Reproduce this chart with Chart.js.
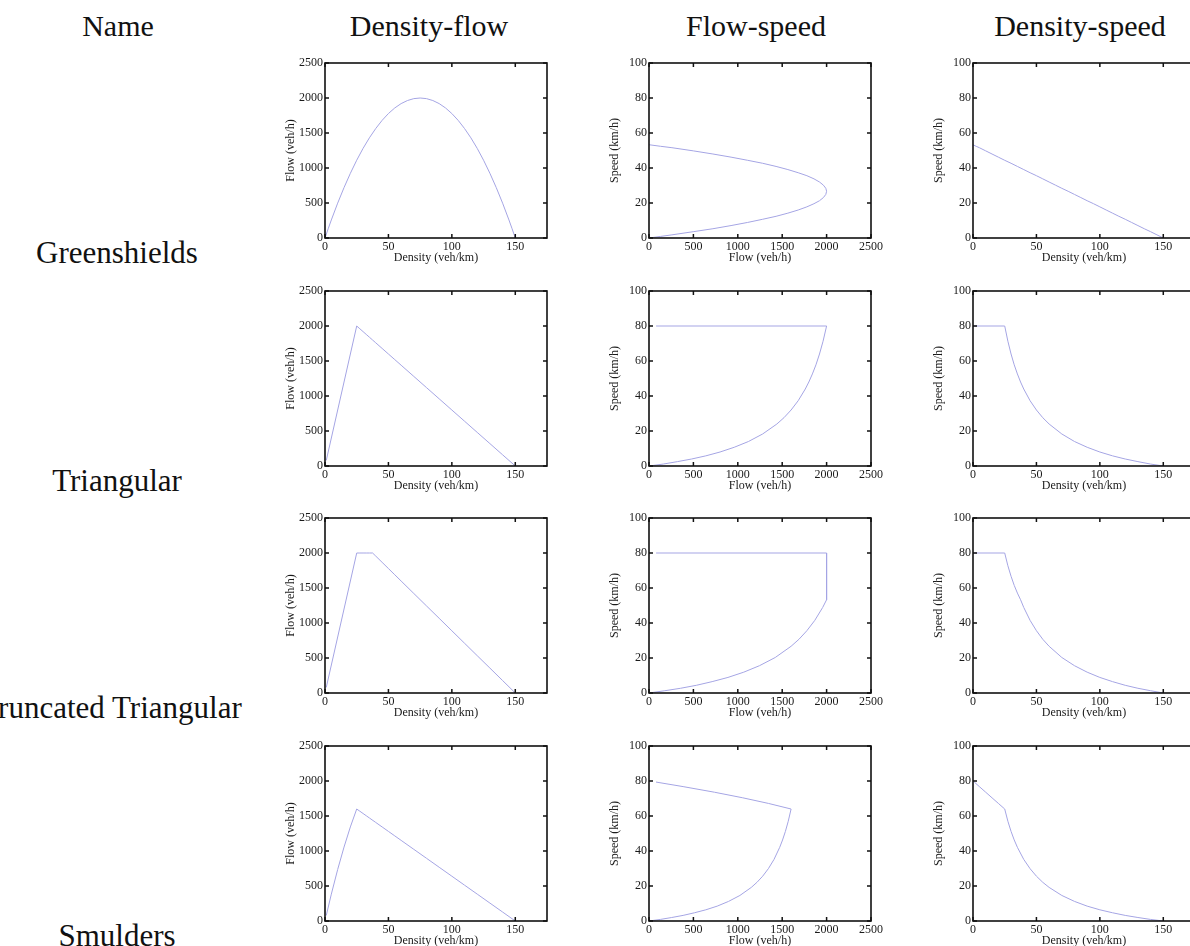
<!DOCTYPE html>
<html><head><meta charset="utf-8">
<script src="https://cdn.jsdelivr.net/npm/chart.js@4.4.0/dist/chart.umd.min.js"></script>
<style>
html,body{margin:0;padding:0;width:1190px;height:946px;overflow:hidden;background:#fff;position:relative;}
.lbl{position:absolute;font-family:"Liberation Serif","Times New Roman",serif;font-size:31px;color:#111;white-space:nowrap;line-height:1;transform:translateX(-50%);}
.hdr{font-size:30px;}
canvas{position:absolute;}
</style></head><body>
<script>
// ---- labels ----
const columnHeaders = ["Name", "Density-flow", "Flow-speed", "Density-speed"];
const rowNames = ["Greenshields", "Triangular", "Truncated Triangular", "Smulders"];

// ---- tick labels ----
const densityTicks = [0, 50, 100, 150];
const flowTicks = [0, 500, 1000, 1500, 2000, 2500];
const speedTicks = [0, 20, 40, 60, 80, 100];
const densityMax = 175, flowMax = 2500, speedMax = 100;

// ---- Greenshields ----
const gsDensity = [0, 2.5, 5, 10, 15, 20, 25, 30, 35, 40, 45, 50, 55, 60, 65, 70, 75, 80, 85, 90, 95, 100, 105, 110, 115, 120, 125, 130, 135, 140, 145, 147.5, 150];
const gsFlow    = [0, 131, 258, 498, 720, 924, 1111, 1280, 1431, 1564, 1680, 1778, 1858, 1920, 1964, 1991, 2000, 1991, 1964, 1920, 1858, 1778, 1680, 1564, 1431, 1280, 1111, 924, 720, 498, 258, 131, 0];
const gsSpeed   = [53.3, 52.4, 51.6, 49.8, 48.0, 46.2, 44.4, 42.7, 40.9, 39.1, 37.3, 35.6, 33.8, 32.0, 30.2, 28.4, 26.7, 24.9, 23.1, 21.3, 19.6, 17.8, 16.0, 14.2, 12.4, 10.7, 8.9, 7.1, 5.3, 3.6, 1.8, 0.9, 0];

// ---- Triangular ----
const triDensity = [1, 25, 27.5, 30, 32.5, 35, 37.5, 40, 45, 50, 55, 60, 70, 80, 90, 100, 110, 120, 130, 140, 150];
const triFlow    = [80, 2000, 1960, 1920, 1880, 1840, 1800, 1760, 1680, 1600, 1520, 1440, 1280, 1120, 960, 800, 640, 480, 320, 160, 0];
const triSpeed   = [80, 80, 71.3, 64, 57.8, 52.6, 48, 44, 37.3, 32, 27.6, 24, 18.3, 14, 10.7, 8, 5.8, 4, 2.5, 1.1, 0];

// ---- Truncated Triangular ----
const truDensity = [1, 25, 27.5, 30, 32.5, 35, 37.5, 40, 45, 50, 55, 60, 70, 80, 90, 100, 110, 120, 130, 140, 150];
const truFlow    = [80, 2000, 2000, 2000, 2000, 2000, 2000, 1956, 1867, 1778, 1689, 1600, 1422, 1244, 1067, 889, 711, 533, 356, 178, 0];
const truSpeed   = [80, 80, 72.7, 66.7, 61.5, 57.1, 53.3, 48.9, 41.5, 35.6, 30.7, 26.7, 20.3, 15.6, 11.9, 8.9, 6.5, 4.4, 2.7, 1.3, 0];

// ---- Smulders ----
const smDensity = [1, 5, 10, 15, 20, 25, 27.5, 30, 32.5, 35, 40, 45, 50, 55, 60, 70, 80, 90, 100, 110, 120, 130, 140, 150];
const smFlow    = [79, 384, 736, 1056, 1344, 1600, 1568, 1536, 1504, 1472, 1408, 1344, 1280, 1216, 1152, 1024, 896, 768, 640, 512, 384, 256, 128, 0];
const smSpeed   = [79.4, 76.8, 73.6, 70.4, 67.2, 64, 57.0, 51.2, 46.3, 42.1, 35.2, 29.9, 25.6, 22.1, 19.2, 14.6, 11.2, 8.5, 6.4, 4.7, 3.2, 2.0, 0.9, 0];

const models = [
  {k: gsDensity, q: gsFlow, v: gsSpeed},
  {k: triDensity, q: triFlow, v: triSpeed},
  {k: truDensity, q: truFlow, v: truSpeed},
  {k: smDensity, q: smFlow, v: smSpeed}
];

// ---- layout ----
const colLefts = [325, 649, 973];
const rowTops = [63, 290.5, 518, 745.5];
const plotW = 222, plotH = 175;
const yAxisW = 40, xAxisH = 26, padTop = 10, padRight = 16;
const headerX = [118, 429, 756, 1080];
const rowLabelX = [117, 117, 111, 117];
const LINE = 'rgb(165,165,228)';
const TXT = '#1a1a1a';
const SERIF = '"Liberation Serif","Times New Roman",serif';

function addLabel(text, x, baseline, cls) {
  const d = document.createElement('div');
  d.className = 'lbl' + (cls ? ' ' + cls : '');
  d.textContent = text;
  d.style.left = x + 'px';
  d.style.top = (baseline - 26) + 'px';
  document.body.appendChild(d);
}
columnHeaders.forEach((t, i) => addLabel(t, headerX[i], 37, 'hdr'));
rowNames.forEach((t, i) => addLabel(t, rowLabelX[i], rowTops[i] + plotH + 25));

const framePlugin = {
  id: 'frame',
  afterDatasetsDraw(chart) {
    const {ctx, chartArea: {left, right, top, bottom}, scales: {x, y}} = chart;
    ctx.save();
    ctx.strokeStyle = '#111';
    ctx.lineWidth = 1.5;
    ctx.beginPath();
    x.ticks.forEach(t => {
      const px = x.getPixelForValue(t.value);
      ctx.moveTo(px, bottom); ctx.lineTo(px, bottom - 4);
      ctx.moveTo(px, top); ctx.lineTo(px, top + 4);
    });
    y.ticks.forEach(t => {
      const py = y.getPixelForValue(t.value);
      ctx.moveTo(left, py); ctx.lineTo(left + 4, py);
      ctx.moveTo(right, py); ctx.lineTo(right - 4, py);
    });
    ctx.stroke();
    ctx.lineWidth = 1.6;
    ctx.strokeRect(left, top, right - left, bottom - top);
    ctx.restore();
  }
};

function axis(max, ticks, title, isX) {
  return {
    type: 'linear', min: 0, max: max,
    afterBuildTicks: s => { s.ticks = ticks.map(v => ({value: v})); },
    afterFit: s => { if (isX) s.height = xAxisH; else s.width = yAxisW; },
    grid: {display: false, drawTicks: false},
    border: {display: false},
    ticks: {padding: 2, color: TXT, font: {family: SERIF, size: 12}, maxRotation: 0, autoSkip: false,
            callback: v => String(v)},
    title: {display: true, text: title, color: TXT, padding: 0, font: {family: SERIF, size: 12, lineHeight: 1}}
  };
}

const colDefs = [
  {xs: 'k', ys: 'q', x: [densityMax, densityTicks, 'Density (veh/km)'], y: [flowMax, flowTicks, 'Flow (veh/h)']},
  {xs: 'q', ys: 'v', x: [flowMax, flowTicks, 'Flow (veh/h)'], y: [speedMax, speedTicks, 'Speed (km/h)']},
  {xs: 'k', ys: 'v', x: [densityMax, densityTicks, 'Density (veh/km)'], y: [speedMax, speedTicks, 'Speed (km/h)']}
];

models.forEach((m, r) => {
  colDefs.forEach((cd, c) => {
    const cv = document.createElement('canvas');
    const w = yAxisW + plotW + padRight, h = padTop + plotH + xAxisH;
    cv.width = w; cv.height = h;
    cv.style.width = w + 'px'; cv.style.height = h + 'px';
    cv.style.left = (colLefts[c] - yAxisW) + 'px';
    cv.style.top = (rowTops[r] - padTop) + 'px';
    document.body.appendChild(cv);
    const xs = m[cd.xs], ys = m[cd.ys];
    new Chart(cv, {
      type: 'scatter',
      data: {datasets: [{data: xs.map((xv, i) => ({x: xv, y: ys[i]})), showLine: true, pointRadius: 0,
                         borderColor: LINE, borderWidth: 1, tension: 0}]},
      options: {
        responsive: false, animation: false, devicePixelRatio: 1,
        layout: {padding: {top: padTop, right: padRight, left: 0, bottom: 0}},
        plugins: {legend: {display: false}, tooltip: {enabled: false}},
        scales: {
          x: axis(cd.x[0], cd.x[1], cd.x[2], true),
          y: axis(cd.y[0], cd.y[1], cd.y[2], false)
        }
      },
      plugins: [framePlugin]
    });
  });
});
</script></body></html>
